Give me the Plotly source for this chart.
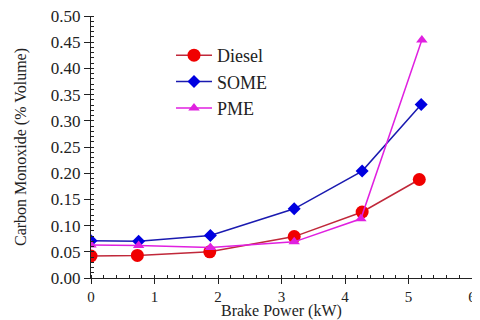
import plotly.graph_objects as go

diesel_x = [0, 0.73, 1.87, 3.2, 4.27, 5.17]
diesel_y = [0.042, 0.043, 0.050, 0.079, 0.126, 0.188]
some_x = [0, 0.75, 1.88, 3.2, 4.27, 5.2]
some_y = [0.071, 0.070, 0.081, 0.132, 0.204, 0.331]
pme_x = [0, 0.75, 1.88, 3.2, 4.25, 5.21]
pme_y = [0.063, 0.062, 0.058, 0.069, 0.113, 0.454]

font = "Times New Roman, Times, serif"

fig = go.Figure()
fig.add_trace(go.Scatter(x=diesel_x, y=diesel_y, name="Diesel", mode="lines+markers",
                         line=dict(color="#c0283a", width=1.5),
                         marker=dict(symbol="circle", size=13, color="#f00000")))
fig.add_trace(go.Scatter(x=some_x, y=some_y, name="SOME", mode="lines+markers",
                         line=dict(color="#1a1ab0", width=1.5),
                         marker=dict(symbol="diamond", size=10, color="#0000e0")))
fig.add_trace(go.Scatter(x=pme_x, y=pme_y, name="PME", mode="lines+markers",
                         line=dict(color="#e020e0", width=1.5),
                         marker=dict(symbol="triangle-up", size=10, color="#e020e0")))

# page body has an 8px margin, so the figure is 8px smaller and shifted
fig.update_layout(
    width=472, height=312,
    margin=dict(l=83, r=8, t=8, b=42),
    paper_bgcolor="white", plot_bgcolor="white",
    font=dict(family=font, size=16, color="#222"),
    legend=dict(x=0.21, y=0.92, xanchor="left", yanchor="top",
                font=dict(family=font, size=18), bgcolor="rgba(0,0,0,0)",
                tracegroupgap=0, itemwidth=36),
    showlegend=True,
    annotations=[dict(text="Brake Power (kW)", xref="paper", yref="paper", x=0.5, y=0,
                      xanchor="center", yanchor="top", yshift=-22, showarrow=False,
                      font=dict(family=font, size=16, color="#222"))],
)
fig.update_xaxes(range=[0, 6], dtick=1, tick0=0, showgrid=False, zeroline=False,
                 automargin=False, ticklabeloverflow="allow",
                 showline=True, linecolor="#222", linewidth=1.2,
                 ticks="outside", ticklen=5, tickcolor="#222",
                 minor=dict(dtick=0.2, ticks="inside", ticklen=3, tickcolor="#222", showgrid=False),
                 tickfont=dict(family=font, size=15))
fig.update_yaxes(range=[0, 0.5], dtick=0.05, tick0=0, tickformat=".2f", showgrid=False, zeroline=False,
                 automargin=False, ticklabeloverflow="allow",
                 showline=True, linecolor="#222", linewidth=1.2,
                 ticks="outside", ticklen=6, tickcolor="#222",
                 minor=dict(dtick=0.01, ticks="inside", ticklen=3, tickcolor="#222", showgrid=False),
                 title=dict(text="Carbon Monoxide (% Volume)", standoff=20, font=dict(family=font, size=16)),
                 tickfont=dict(family=font, size=17))

fig.write_html("out.html")
